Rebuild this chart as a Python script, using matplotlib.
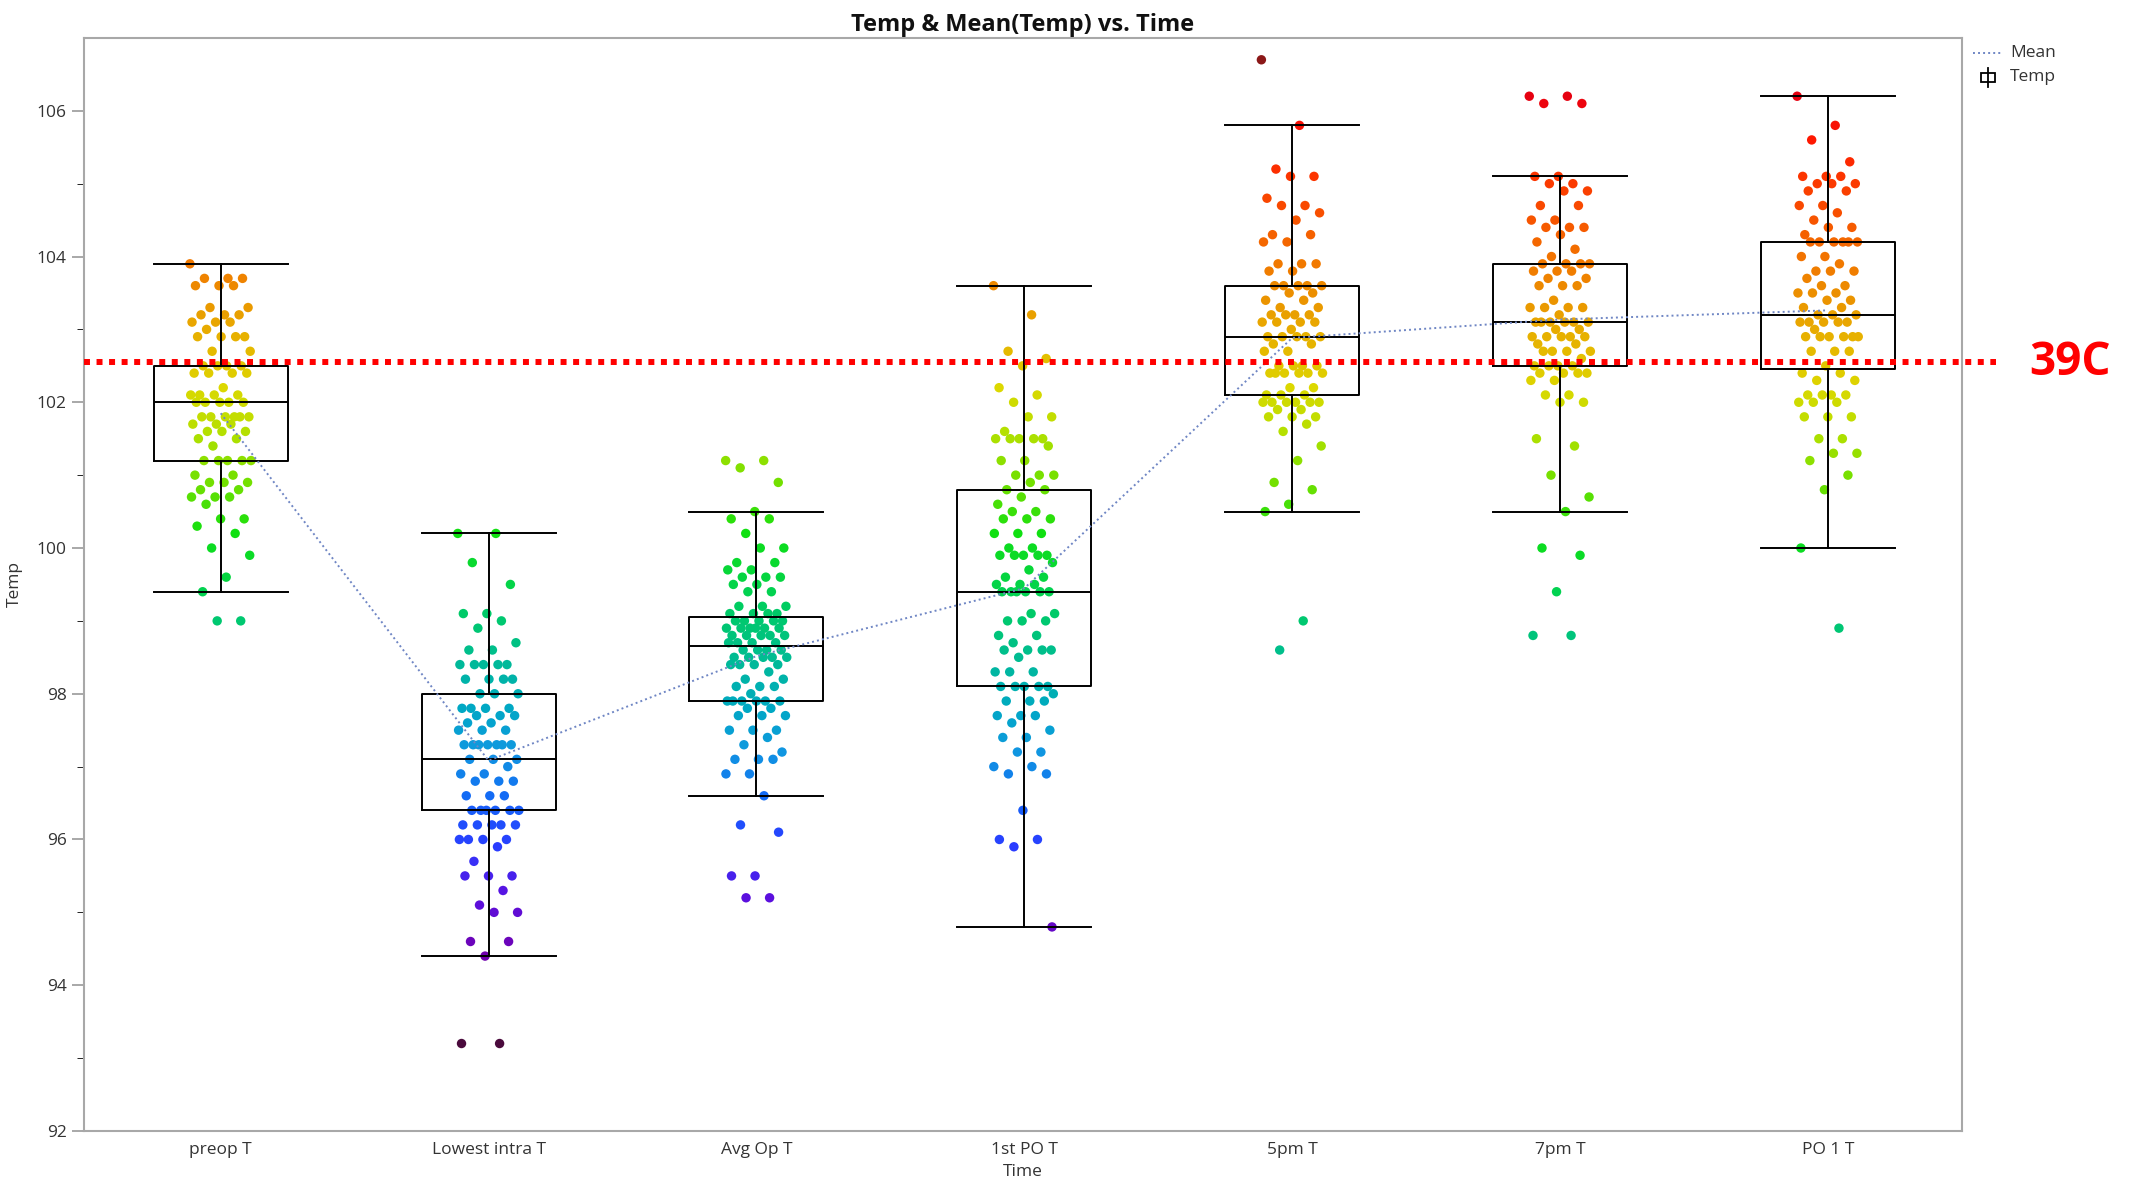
import numpy as np
import matplotlib
matplotlib.use('Agg')
import matplotlib.pyplot as plt
from matplotlib.colors import LinearSegmentedColormap, Normalize
from matplotlib.lines import Line2D
from matplotlib.patches import Rectangle

plt.rcParams['font.family'] = ['Open Sans', 'DejaVu Sans']

times = ['preop T', 'Lowest intra T', 'Avg Op T', '1st PO T', '5pm T', '7pm T', 'PO 1 T']

# temperature readings (deg F) per time point, as value + how many dots sit at that value
preop_vals = [103.9, 103.7, 103.6, 103.3, 103.2, 103.1, 103.0, 102.9, 102.7, 102.5, 102.4, 102.2, 102.1,
              102.0, 101.8, 101.7, 101.6, 101.5, 101.4, 101.2, 101.0, 100.9, 100.8, 100.7, 100.6, 100.4,
              100.3, 100.2, 100.0, 99.9, 99.6, 99.4, 99.0]
preop_counts = [1, 3, 3, 2, 3, 3, 1, 4, 2, 4, 4, 1, 4, 5, 6, 3, 3, 2, 1, 5, 2, 3, 2, 3, 1, 2, 1, 1, 1, 1, 1, 1, 2]

lowest_vals = [100.2, 99.8, 99.5, 99.1, 99.0, 98.9, 98.7, 98.6, 98.4, 98.2, 98.0, 97.8, 97.7, 97.6, 97.5,
               97.3, 97.1, 97.0, 96.9, 96.8, 96.6, 96.4, 96.2, 96.0, 95.9, 95.7, 95.5, 95.3, 95.1, 95.0,
               94.6, 94.4, 93.2]
lowest_counts = [2, 1, 1, 2, 1, 1, 1, 2, 5, 4, 3, 4, 3, 2, 3, 7, 3, 1, 2, 3, 3, 6, 5, 4, 1, 1, 3, 1, 1, 2, 2, 1, 2]

avgop_vals = [101.2, 101.1, 100.9, 100.5, 100.4, 100.2, 100.0, 99.8, 99.7, 99.6, 99.5, 99.4, 99.2, 99.1,
              99.0, 98.9, 98.8, 98.7, 98.6, 98.5, 98.4, 98.3, 98.2, 98.1, 98.0, 97.9, 97.8, 97.7, 97.5,
              97.4, 97.3, 97.2, 97.1, 96.9, 96.6, 96.2, 96.1, 95.5, 95.2]
avgop_counts = [2, 1, 1, 1, 2, 1, 2, 2, 2, 3, 2, 2, 3, 4, 5, 6, 5, 4, 4, 5, 4, 1, 2, 3, 1, 6, 2, 3, 3,
                1, 1, 1, 3, 2, 1, 1, 1, 2, 2]

firstpo_vals = [103.6, 103.2, 102.7, 102.6, 102.5, 102.2, 102.1, 102.0, 101.8, 101.6, 101.5, 101.4, 101.2,
                101.0, 100.9, 100.8, 100.7, 100.6, 100.5, 100.4, 100.2, 100.0, 99.9, 99.8, 99.7, 99.6,
                99.5, 99.4, 99.1, 99.0, 98.8, 98.7, 98.6, 98.5, 98.3, 98.1, 98.0, 97.9, 97.7, 97.6, 97.5,
                97.4, 97.2, 97.0, 96.9, 96.4, 96.0, 95.9, 94.8]
firstpo_counts = [1, 1, 1, 1, 1, 1, 1, 1, 2, 1, 5, 1, 2, 3, 1, 2, 1, 1, 2, 3, 3, 2, 5, 1, 1, 2, 3, 6, 2,
                  3, 2, 1, 4, 1, 3, 5, 1, 3, 3, 1, 1, 2, 2, 2, 2, 1, 2, 1, 1]

pm5_vals = [106.7, 105.8, 105.2, 105.1, 104.8, 104.7, 104.6, 104.5, 104.3, 104.2, 103.9, 103.8, 103.6,
            103.5, 103.4, 103.3, 103.2, 103.1, 103.0, 102.9, 102.8, 102.7, 102.5, 102.4, 102.2, 102.1,
            102.0, 101.9, 101.8, 101.7, 101.6, 101.4, 101.2, 100.9, 100.8, 100.6, 100.5, 99.0, 98.6]
pm5_counts = [1, 1, 1, 2, 1, 2, 1, 1, 2, 2, 3, 2, 5, 2, 2, 2, 4, 4, 1, 5, 2, 2, 4, 6, 2, 3, 6, 2, 3,
              1, 1, 1, 1, 1, 1, 1, 1, 1, 1]

pm7_vals = [106.2, 106.1, 105.1, 105.0, 104.9, 104.7, 104.5, 104.4, 104.3, 104.2, 104.1, 104.0, 103.9,
            103.8, 103.7, 103.6, 103.4, 103.3, 103.2, 103.1, 103.0, 102.9, 102.8, 102.7, 102.6, 102.5,
            102.4, 102.3, 102.1, 102.0, 101.5, 101.4, 101.0, 100.7, 100.5, 100.0, 99.9, 99.4, 98.8]
pm7_counts = [2, 2, 2, 2, 2, 2, 2, 3, 1, 1, 1, 1, 4, 3, 2, 3, 1, 4, 1, 6, 2, 5, 2, 4, 1, 4, 4, 2, 2,
              2, 1, 1, 1, 1, 1, 1, 1, 1, 2]

po1_vals = [106.2, 105.8, 105.6, 105.3, 105.1, 105.0, 104.9, 104.7, 104.6, 104.5, 104.4, 104.3, 104.2,
            104.0, 103.9, 103.8, 103.7, 103.6, 103.5, 103.4, 103.3, 103.2, 103.1, 103.0, 102.9, 102.7,
            102.5, 102.4, 102.3, 102.1, 102.0, 101.8, 101.5, 101.3, 101.2, 101.0, 100.8, 100.0, 98.9]
po1_counts = [1, 1, 1, 1, 3, 3, 2, 2, 1, 1, 2, 1, 6, 2, 1, 3, 1, 2, 3, 2, 2, 3, 5, 1, 6, 3, 1, 2, 2,
              4, 3, 3, 2, 2, 1, 1, 1, 1, 1]

# box plot summaries: lower whisker, Q1, median, Q3, upper whisker
whis_lo = [99.4, 94.4, 96.6, 94.8, 100.5, 100.5, 100.0]
q1 = [101.2, 96.4, 97.9, 98.1, 102.1, 102.5, 102.45]
median = [102.0, 97.1, 98.65, 99.4, 102.9, 103.1, 103.2]
q3 = [102.5, 98.0, 99.05, 100.8, 103.6, 103.9, 104.2]
whis_hi = [103.9, 100.2, 100.5, 103.6, 105.8, 105.1, 106.2]

threshold_f = 102.55   # 39C reference line

groups = [np.repeat(v, c) for v, c in [(preop_vals, preop_counts), (lowest_vals, lowest_counts),
                                        (avgop_vals, avgop_counts), (firstpo_vals, firstpo_counts),
                                        (pm5_vals, pm5_counts), (pm7_vals, pm7_counts),
                                        (po1_vals, po1_counts)]]
means = [g.mean() for g in groups]

# rainbow colouring by temperature, like the JMP legend
anchors = [(93.2, '#4a0a3c'), (94.4, '#7000b0'), (95.2, '#5a10e0'), (95.9, '#2a3cff'), (96.5, '#1464f8'),
           (97.2, '#1098e0'), (97.8, '#00a8c4'), (98.5, '#00bc92'), (99.3, '#00d058'), (100.2, '#10e010'),
           (100.9, '#70e000'), (101.6, '#b4e000'), (102.2, '#dcd800'), (102.8, '#e6b600'), (103.5, '#ec9000'),
           (104.2, '#f46800'), (104.9, '#fa4000'), (105.6, '#ff1a00'), (106.2, '#ea0010'), (106.7, '#8b1818')]
lo, hi = anchors[0][0], anchors[-1][0]
cmap = LinearSegmentedColormap.from_list('temp', [((t - lo) / (hi - lo), c) for t, c in anchors])
norm = Normalize(lo, hi)

fig = plt.figure(figsize=(21.29, 11.85), dpi=100)
ax = fig.add_axes([0.0395, 0.0456, 0.882, 0.9224])

for i, g in enumerate(groups):
    k = np.arange(len(g))
    jitter = ((k * 0.618034) % 1 - 0.5) * 0.23
    ax.scatter(i + jitter, g, s=46, c=cmap(norm(g)), edgecolors='none', zorder=2)

stats = [dict(whislo=a, q1=b, med=m, q3=d, whishi=e, fliers=[])
         for a, b, m, d, e in zip(whis_lo, q1, median, q3, whis_hi)]
lp = dict(color='black', linewidth=1.4)
ax.bxp(stats, positions=range(len(times)), widths=0.5, capwidths=0.5, showfliers=False,
       boxprops=lp, whiskerprops=lp, capprops=lp, medianprops=lp, manage_ticks=False, zorder=3)

ax.plot(range(len(times)), means, color='#6f86c4', linestyle=(0, (1, 1.6)), linewidth=1.4, zorder=4)

trans = ax.get_yaxis_transform()
ax.plot([0, 1.018], [threshold_f, threshold_f], transform=trans, color='#ff0000',
        linewidth=4.3, linestyle=(0, (1, 1.1)), clip_on=False, zorder=5)
ax.text(1.0575, threshold_f, '39C', transform=trans, color='#ff0000', fontsize=33,
        fontweight='bold', ha='center', va='center')

ax.set_xlim(-0.51, 6.5)
ax.set_ylim(92, 107.0)
ax.set_xticks(range(len(times)))
ax.set_xticklabels(times)
ax.set_yticks(np.arange(92, 107, 2))
ax.set_yticks(np.arange(93, 107, 2), minor=True)
ax.tick_params(axis='both', labelsize=12.5, colors='#999999', labelcolor='#333333', width=1.2)
ax.tick_params(axis='y', which='major', length=9)
ax.tick_params(axis='y', which='minor', length=5)
ax.tick_params(axis='x', length=0, pad=8)
for s in ax.spines.values():
    s.set_color('#a8a8a8')
    s.set_linewidth(1.5)

ax.set_xlabel('Time', fontsize=12.5, color='#333333', labelpad=4)
ax.set_ylabel('Temp', fontsize=12.5, color='#333333', labelpad=10)
ax.set_title('Temp & Mean(Temp) vs. Time', fontsize=17, fontweight='bold', color='#111111', pad=5)

# legend in the right margin
fig.add_artist(Line2D([0.9265, 0.941], [0.955, 0.955], color='#6f86c4', linestyle=(0, (1, 1.6)),
                      linewidth=1.4))
fig.text(0.944, 0.955, 'Mean', fontsize=12.5, color='#333333', va='center')
fig.add_artist(Rectangle((0.9305, 0.9305), 0.0065, 0.008, fill=False, edgecolor='black', linewidth=1.3))
fig.add_artist(Line2D([0.9337, 0.9337], [0.9265, 0.9425], color='black', linewidth=1.3))
fig.text(0.944, 0.935, 'Temp', fontsize=12.5, color='#333333', va='center')

fig.savefig('out.png', dpi=100)
